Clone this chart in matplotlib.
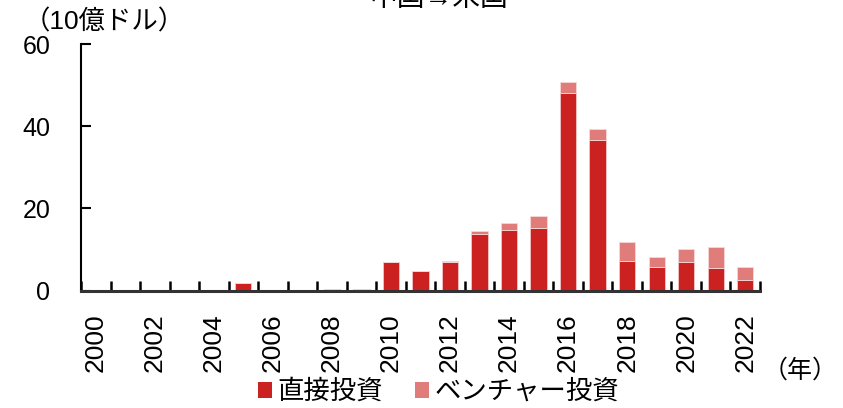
import matplotlib
matplotlib.use('Agg')
import matplotlib.pyplot as plt
from matplotlib.patches import Patch
import numpy as np

plt.rcParams['font.family'] = ['Liberation Sans', 'Noto Sans CJK JP']

# investment flows (unit: 10億ドル)
years = list(range(2000, 2023))
direct = [0, 0, 0, 0, 0, 1.9, 0, 0, 0.4, 0.3, 7.0, 4.8, 7.1, 13.9,
          14.8, 15.3, 48.2, 36.7, 7.2, 5.8, 7.1, 5.6, 2.6]
venture = [0, 0, 0, 0, 0, 0, 0, 0, 0, 0, 0, 0, 0.1, 0.6,
           1.6, 2.9, 2.5, 2.6, 4.7, 2.3, 3.0, 5.0, 3.1]

c_direct = '#cc2121'
c_venture = '#e07c79'

fig = plt.figure(figsize=(8.43, 4.08), dpi=100)
ax = fig.add_axes([0.0961, 0.2875, 0.8054, 0.6045])

x = np.arange(len(years))
ax.bar(x, direct, width=0.55, color=c_direct, edgecolor='#f3c4c4', linewidth=0.6)
ax.bar(x, venture, width=0.55, bottom=direct, color=c_venture,
       edgecolor='#f7d8d8', linewidth=0.6)

ax.set_xlim(-0.5, len(years) - 0.5)
ax.set_ylim(0, 60)
ax.set_yticks([0, 20, 40, 60])
ax.tick_params(axis='y', direction='in', length=7, width=1.5, labelsize=18, pad=22)

# ticks on category boundaries, labels under every other bar
ax.set_xticks(np.arange(-0.5, len(years), 1.0))
ax.set_xticklabels([])
ax.tick_params(axis='x', which='major', direction='in', length=7, width=1.8)
ax.set_xticks(x[::2], minor=True)
ax.set_xticklabels([str(y) for y in years[::2]], minor=True, rotation=90)
ax.tick_params(axis='x', which='minor', length=0, labelsize=19, pad=16)

for s in ['top', 'right']:
    ax.spines[s].set_visible(False)
ax.spines['left'].set_linewidth(1.5)
ax.spines['bottom'].set_linewidth(2.2)
ax.spines['bottom'].set_color('#333333')

fig.text(0.028, 0.978, '（10億ドル）', fontsize=19, ha='left', va='top')
fig.text(0.905, 0.062, '（年）', fontsize=18, ha='left', va='bottom')
fig.text(0.52, 1 - 6 / 408, '中国→米国', fontsize=20, ha='center', va='baseline')

handles = [Patch(facecolor=c_direct, label='直接投資'),
           Patch(facecolor=c_venture, label='ベンチャー投資')]
fig.legend(handles=handles, loc='center', bbox_to_anchor=(0.52, 0.04), ncol=2,
           frameon=False, fontsize=19, handlelength=0.55, handleheight=0.55,
           handletextpad=0.2, columnspacing=1.2, borderpad=0)

fig.savefig('out.png', dpi=100)
